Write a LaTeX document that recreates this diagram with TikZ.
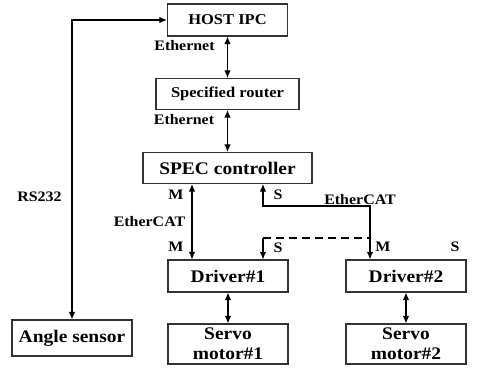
\documentclass[tikz,border=0pt]{standalone}
\usepackage{fontspec}
\setmainfont{Liberation Serif}[FakeStretch=1.1]
\usetikzlibrary{positioning,arrows.meta}

\begin{document}
\begin{tikzpicture}[x=1pt,y=-1pt,>={Latex[length=7.5pt,width=6.5pt]},line width=1.1pt,node distance=74pt,font=\bfseries]
\tikzstyle{block}=[draw=black!80,fill=white,text=black,inner sep=0pt,minimum width=120pt,minimum height=32pt,font=\fontsize{17.7}{20}\selectfont\bfseries,align=center]
\tikzstyle{small}=[block,font=\fontsize{15}{17}\selectfont\bfseries]
\tikzstyle{lbl}=[inner sep=0pt,font=\fontsize{14.5}{16}\selectfont\bfseries]
\useasboundingbox (0,0) rectangle (481,367);
\node[small] (host) at (227.5,20) {HOST IPC};
\node[small,minimum width=143pt,minimum height=31pt] (router) [below of=host] {Specified router};
\node[block,minimum width=169pt,minimum height=31pt] (spec) [below of=router] {SPEC controller};
\node[block] (drv1) at (228,276) {Driver\#1};
\node[block] (drv2) [right of=drv1,node distance=178pt] {Driver\#2};
\node[block,minimum height=40pt] (servo1) [below of=drv1,node distance=68pt] {Servo\\motor\#1};
\node[block,minimum height=40pt] (servo2) [below of=drv2,node distance=68pt] {Servo\\motor\#2};
\node[block,minimum height=36pt] (angle) at (72,338) {Angle sensor};
% bus points
\coordinate (m) at (192,0);
\coordinate (s1) at (263,206);
\coordinate (s2) at (370,206);
\coordinate (d1) at (263,238);
\coordinate (d2) at (370,238);
\draw[<->] (angle.north) |- (host.west);
\draw[<->] (host) -- (router);
\draw[<->] (router) -- (spec);
\draw[<->] (spec.south -| m) -- (drv1.north -| m);
\draw[<->] (spec.south -| s1) -- (s1) -- (s2) -- (drv2.north -| s2);
\draw[dashed,dash pattern=on 8pt off 5pt] (d1) -- (d2);
\draw[->] (d1) -- (drv1.north -| d1);
\draw[<->] (drv1) -- (servo1);
\draw[<->] (drv2) -- (servo2);
% labels
\node[lbl] (rs) at (39.5,197) {RS232};
\node[lbl] (eth1) at (184.5,46) {Ethernet};
\node[lbl] (eth2) at (184,120) {Ethernet};
\node[lbl] (ecat1) at (149.5,222) {EtherCAT};
\node[lbl] (ecat2) at (360,200) {EtherCAT};
\node[lbl] (m1) at (176,195) {M};
\node[lbl] (m2) at (176,247) {M};
\node[lbl] (m3) at (383,247) {M};
\node[lbl] (sa) at (278,195) {S};
\node[lbl] (sb) at (278,248) {S};
\node[lbl] (sc) at (455,247) {S};
\end{tikzpicture}
\end{document}
